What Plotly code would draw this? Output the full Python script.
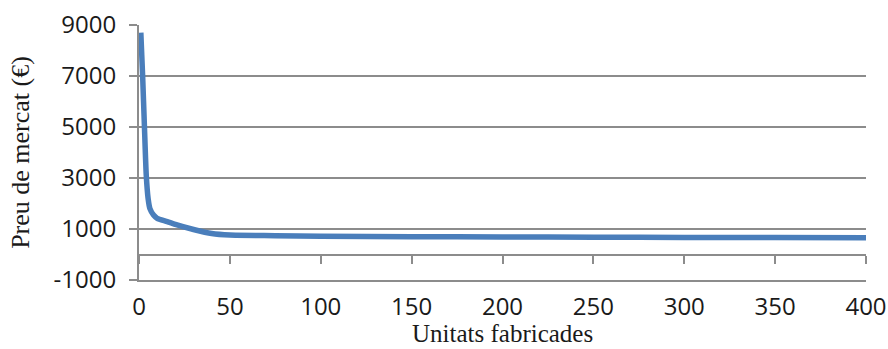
import plotly.graph_objects as go

# Market price per unit as production volume grows
unitats = [1, 2, 3, 4, 5, 6, 8, 10, 15, 20, 30, 40, 50, 75, 100, 150, 200, 250, 300, 350, 400]
preu = [8700, 7000, 5000, 3100, 2200, 1800, 1550, 1420, 1300, 1180, 980, 820, 760, 740, 720,
        700, 690, 680, 670, 665, 655]

x_ticks = [0, 50, 100, 150, 200, 250, 300, 350, 400]
y_ticks = [-1000, 1000, 3000, 5000, 7000, 9000]
y_labels = ["-1000", "1000", "3000", "5000", "7000", "9000"]

GRID = "#8c8c8c"
y_min, y_max = -1000, 9000

fig = go.Figure()
fig.add_trace(go.Scatter(
    x=unitats, y=preu, mode="lines",
    line=dict(color="#4a7ebb", width=5.5, shape="spline", smoothing=0.6),
    showlegend=False, hoverinfo="skip",
))
# empty trace so the zero-level axis is rendered
fig.add_trace(go.Scatter(x=[], y=[], xaxis="x2", showlegend=False, hoverinfo="skip"))

fig.update_layout(
    width=888, height=349,
    margin=dict(l=139, r=22, t=25, b=69, autoexpand=False),
    paper_bgcolor="white", plot_bgcolor="white",
    font=dict(family="Open Sans", size=24, color="#1a1a1a"),
    xaxis=dict(
        range=[0, 400], tickvals=x_ticks, showgrid=False, zeroline=False,
        showline=True, linecolor=GRID, linewidth=2,
        ticks="", ticklabelstandoff=4, automargin=True,
    ),
    # horizontal axis line drawn where the value is zero
    xaxis2=dict(
        range=[0, 400], tickvals=x_ticks, overlaying="x", anchor="free",
        position=(0 - y_min) / (y_max - y_min),
        showline=True, linecolor=GRID, linewidth=2,
        ticks="outside", ticklen=8, tickwidth=2, tickcolor=GRID,
        showticklabels=False, showgrid=False, zeroline=False,
    ),
    yaxis=dict(
        range=[y_min, y_max], tickvals=y_ticks, ticktext=y_labels,
        showgrid=True, gridcolor=GRID, automargin=True,
        gridwidth=2, zeroline=False, showline=True, linecolor=GRID, linewidth=2,
        ticks="outside", ticklen=8, tickwidth=2, tickcolor=GRID,
        ticklabelstandoff=8,
        title=dict(text="Preu de mercat (€)",
                   font=dict(family="Liberation Serif", size=26, color="#1a1a1a"),
                   standoff=16),
    ),
    annotations=[dict(
        text="Unitats fabricades", xref="paper", yref="paper",
        x=0.5, y=-68 / 255, xanchor="center", yanchor="bottom", showarrow=False,
        borderpad=0,
        font=dict(family="Liberation Serif", size=25, color="#1a1a1a"),
    )],
)

fig.write_html("out.html")
